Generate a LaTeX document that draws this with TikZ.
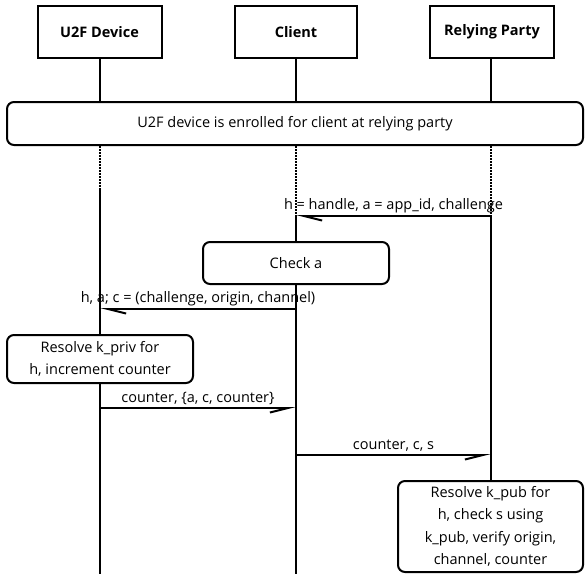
\documentclass[tikz,border=0pt]{standalone}
\usepackage{fontspec}
\setmainfont{Open Sans}
\usetikzlibrary{arrows.meta}
\begin{document}
\begin{tikzpicture}[x=1pt,y=-1pt,
  actor/.style={draw, line width=2pt, minimum width=124pt, minimum height=52pt,
    inner sep=0pt, font=\bfseries\fontsize{14.5}{17}\selectfont},
  note/.style={draw, line width=2pt, rounded corners=7pt, align=center,
    inner sep=0pt, font=\fontsize{14.5}{22.5}\selectfont},
  life/.style={line width=2pt},
  pending/.style={line width=2pt, dash pattern=on 1.5pt off 1.5pt},
  msg/.style={line width=2pt,
    -{Straight Barb[harpoon, length=18pt, width=9pt, line width=2pt]}},
  msgr/.style={line width=2pt,
    -{Straight Barb[harpoon, swap, length=18pt, width=9pt, line width=2pt]}},
  lbl/.style={font=\fontsize{14.5}{17}\selectfont, inner sep=0pt, above=2.5pt}
]
\useasboundingbox (0,0) rectangle (585,574);

% participants
\node[actor] (dev) at (99.5,32) {U2F Device};
\node[actor, minimum width=122pt] (cli) at (296,32) {Client};
\node[actor] (rp) at (492,32) {Relying Party};

% enrollment note spanning all lifelines
\node[note, minimum width=576pt, minimum height=43pt] (enr) at (295,123.5)
  {U2F device is enrolled for client at relying party};

% notes on the lifelines
\node[note, minimum width=186pt, minimum height=42pt] (chk) at (296,263) {Check a};
\node[note, minimum width=186pt, minimum height=48pt] (kpriv) at (100,359)
  {Resolve k\_priv for\\h, increment counter};
\node[note, minimum width=185pt, minimum height=91pt] (kpub) at (490.5,526.5)
  {Resolve k\_pub for\\h, check s using\\k\_pub, verify origin,\\channel, counter};

% points on the lifelines
\coordinate (devA) at (100,188);
\coordinate (devM) at (100,309);
\coordinate (devN) at (100,408);
\coordinate (devEnd) at (100,574);
\coordinate (cliA) at (296,216);
\coordinate (cliM) at (296,309);
\coordinate (cliN) at (296,408);
\coordinate (cliO) at (296,455);
\coordinate (cliEnd) at (296,574);
\coordinate (rpA) at (491,216);
\coordinate (rpO) at (491,455);

% lifelines
\draw[life] (dev.south) -- (dev.south |- enr.north);
\draw[life] (cli.south) -- (cli.south |- enr.north);
\draw[life] (rp.south -| rpA) -- (rpA |- enr.north);
\draw[pending] (devA |- enr.south) -- (devA);
\draw[pending] (cliA |- enr.south) -- (cliA);
\draw[pending] (rpA |- enr.south) -- (rpA);
\draw[life] (devA) -- (kpriv.north);
\draw[life] (kpriv.south) -- (devEnd);
\draw[life] (cliA) -- (chk.north);
\draw[life] (chk.south) -- (cliEnd);
\draw[life] (rpA) -- (rpA |- kpub.north);

% messages
\draw[msg] (rpA) -- (cliA) node[lbl, midway] {h = handle, a = app\_id, challenge};
\draw[msg] (cliM) -- (devM) node[lbl, midway] {h, a; c = (challenge, origin, channel)};
\draw[msgr] (devN) -- (cliN) node[lbl, midway] {counter, \{a, c, counter\}};
\draw[msgr] (cliO) -- (rpO) node[lbl, midway] {counter, c, s};
\end{tikzpicture}
\end{document}
